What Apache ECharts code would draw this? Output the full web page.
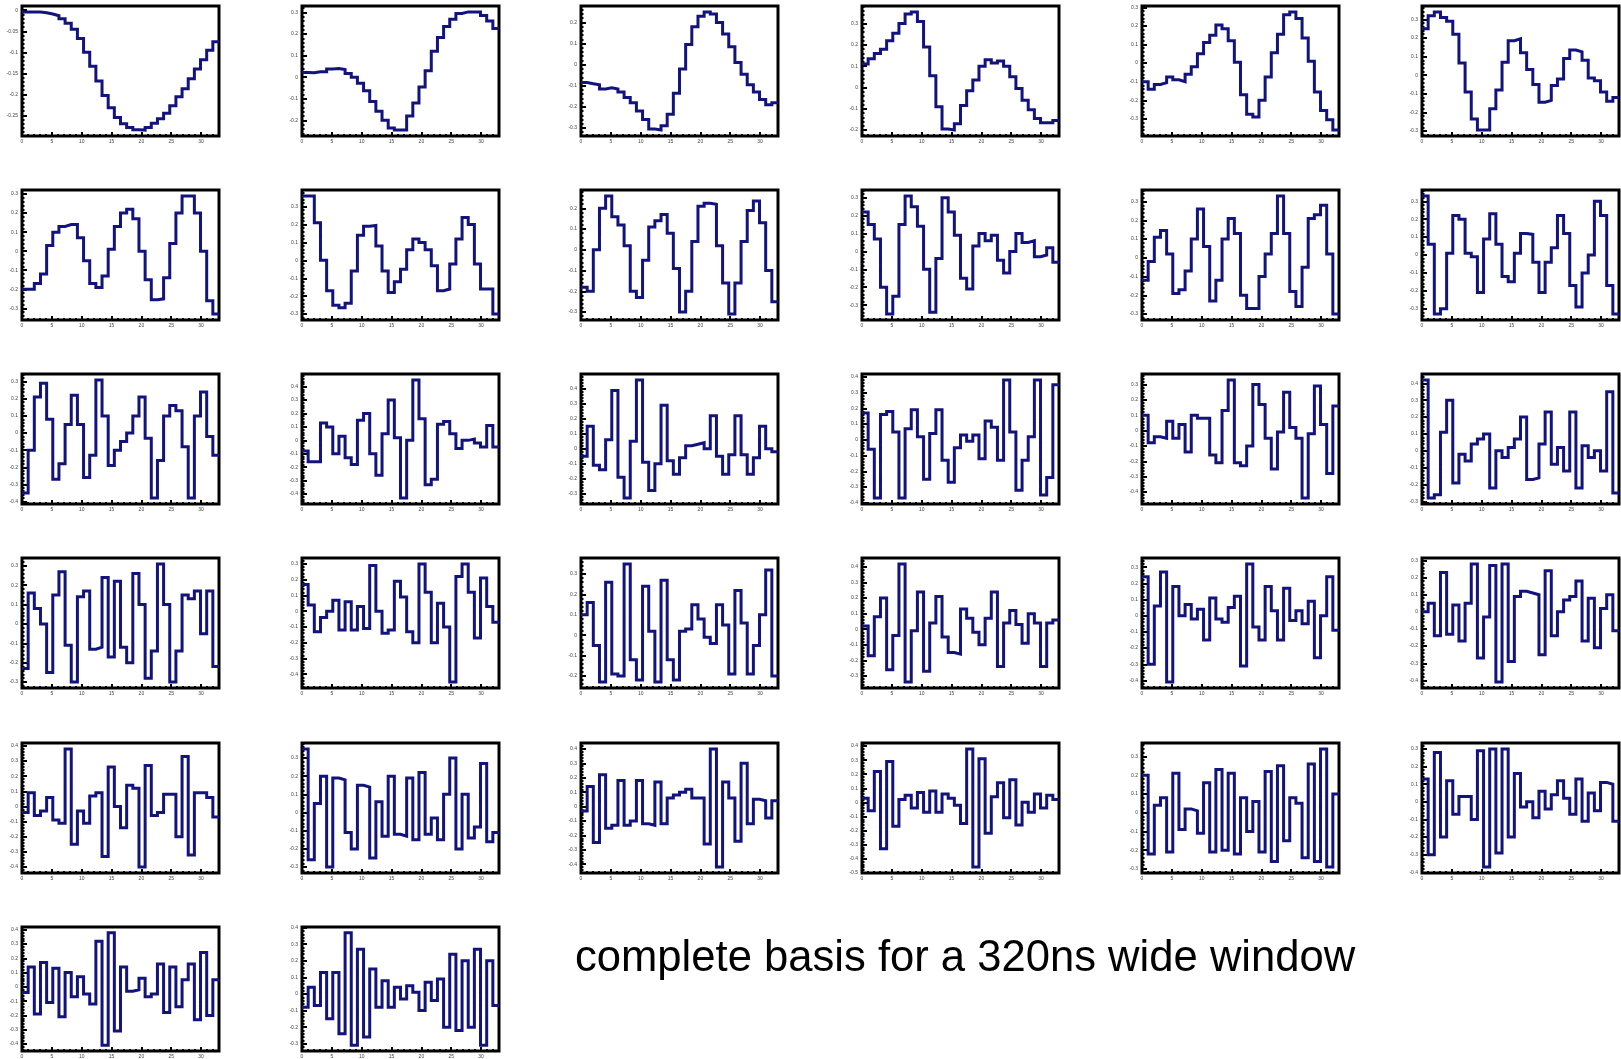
<!DOCTYPE html>
<html>
<head>
<meta charset="utf-8">
<script src="https://cdn.jsdelivr.net/npm/echarts@6/dist/echarts.min.js"></script>
<style>
  html, body { margin: 0; padding: 0; background: #fff; }
  #chart { width: 1621px; height: 1059px; }
</style>
</head>
<body>
<div id="chart"></div>
<script>
// 32 basis vectors, 32 bins each (10 ns per bin)
const basis01 = [-0.004,-0.004,-0.004,-0.006,-0.009,-0.013,-0.02,-0.031,-0.045,-0.067,-0.1,-0.133,-0.168,-0.203,-0.232,-0.255,-0.27,-0.279,-0.284,-0.285,-0.279,-0.269,-0.258,-0.245,-0.227,-0.206,-0.187,-0.163,-0.14,-0.118,-0.095,-0.075]
const basis02 = [0.022,0.02,0.025,0.025,0.038,0.04,0.035,0.017,0.0,-0.028,-0.063,-0.113,-0.158,-0.2,-0.235,-0.245,-0.245,-0.18,-0.12,-0.045,0.03,0.12,0.183,0.235,0.268,0.295,0.302,0.302,0.302,0.285,0.26,0.225]
const basis03 = [-0.085,-0.09,-0.095,-0.115,-0.11,-0.115,-0.13,-0.155,-0.18,-0.22,-0.26,-0.305,-0.31,-0.29,-0.235,-0.135,-0.02,0.095,0.18,0.23,0.25,0.24,0.2,0.145,0.085,0.01,-0.045,-0.095,-0.13,-0.165,-0.19,-0.18]
const basis04 = [0.11,0.135,0.16,0.18,0.22,0.255,0.3,0.345,0.355,0.31,0.19,0.055,-0.09,-0.195,-0.2,-0.17,-0.085,-0.015,0.035,0.1,0.13,0.115,0.125,0.1,0.05,-0.005,-0.06,-0.105,-0.145,-0.165,-0.165,-0.155]
const basis05 = [-0.1,-0.14,-0.115,-0.105,-0.075,-0.09,-0.1,-0.06,-0.02,0.05,0.11,0.15,0.205,0.185,0.12,0.005,-0.17,-0.275,-0.29,-0.2,-0.075,0.055,0.155,0.26,0.275,0.24,0.135,0.01,-0.155,-0.255,-0.305,-0.36]
const basis06 = [0.25,0.32,0.34,0.31,0.29,0.22,0.065,-0.09,-0.235,-0.295,-0.295,-0.18,-0.08,0.07,0.185,0.195,0.12,0.03,-0.05,-0.145,-0.135,-0.055,-0.02,0.09,0.135,0.125,0.08,-0.015,-0.03,-0.09,-0.14,-0.12]
const basis07 = [-0.2,-0.2,-0.17,-0.12,0.03,0.1,0.13,0.14,0.14,0.07,-0.05,-0.17,-0.19,-0.13,0.01,0.13,0.2,0.22,0.17,0.0,-0.15,-0.255,-0.25,-0.14,0.04,0.2,0.29,0.29,0.2,0.0,-0.26,-0.33]
const basis08 = [0.36,0.36,0.21,0.0,-0.17,-0.25,-0.265,-0.24,-0.06,0.14,0.19,0.195,0.08,-0.06,-0.18,-0.12,-0.05,0.06,0.12,0.1,0.06,-0.03,-0.17,-0.16,-0.02,0.12,0.24,0.2,-0.02,-0.16,-0.16,-0.3]
const basis09 = [-0.18,-0.2,0.0,0.2,0.26,0.16,0.12,0.02,-0.2,-0.23,-0.05,0.11,0.14,0.17,0.08,-0.09,-0.3,-0.2,0.04,0.21,0.225,0.22,0.02,-0.16,-0.31,-0.16,0.04,0.19,0.235,0.13,-0.1,-0.25]
const basis10 = [0.22,0.15,0.07,-0.2,-0.35,-0.25,0.15,0.31,0.25,0.14,-0.1,-0.34,-0.04,0.3,0.22,0.09,-0.15,-0.21,0.03,0.1,0.06,0.09,-0.05,-0.12,0.0,0.1,0.05,0.06,-0.03,-0.02,0.02,-0.06]
const basis11 = [-0.12,-0.02,0.11,0.145,0.02,-0.19,-0.17,-0.07,0.1,0.26,0.06,-0.23,-0.12,0.1,0.21,0.13,-0.2,-0.27,-0.27,-0.1,0.02,0.13,0.33,0.13,-0.18,-0.26,-0.05,0.21,0.23,0.28,0.02,-0.3]
const basis12 = [0.33,0.06,-0.33,-0.3,0.01,0.22,0.2,0.01,-0.01,-0.21,0.09,0.23,0.06,-0.12,-0.15,0.01,0.12,0.115,-0.04,-0.21,-0.04,0.04,0.22,0.12,-0.17,-0.29,-0.1,0.0,0.3,0.22,-0.17,-0.33]
const basis13 = [-0.35,-0.1,0.21,0.29,0.08,-0.27,-0.18,0.05,0.22,0.05,-0.26,-0.13,0.31,0.1,-0.19,-0.1,-0.05,0.0,0.1,0.21,-0.03,-0.38,-0.16,0.1,0.16,0.13,-0.08,-0.38,0.1,0.24,-0.02,-0.13]
const basis14 = [-0.08,-0.16,-0.16,0.13,0.1,-0.1,0.03,-0.13,-0.18,0.15,0.2,-0.1,-0.26,0.05,0.3,0.02,-0.43,0.0,0.45,0.16,-0.33,-0.29,0.12,0.14,0.05,-0.06,0.0,0.01,-0.02,-0.05,0.11,-0.05]
const basis15 = [-0.05,0.15,-0.11,-0.14,0.06,0.39,-0.19,-0.33,0.05,0.46,-0.09,-0.28,-0.1,0.29,-0.08,-0.17,-0.06,0.02,0.03,0.04,0.0,0.22,-0.05,-0.17,-0.04,0.22,-0.04,-0.17,-0.06,0.15,0.0,-0.02]
const basis16 = [0.17,-0.06,-0.37,0.16,0.18,0.05,-0.37,0.07,0.19,0.02,-0.25,0.04,0.19,-0.13,-0.27,-0.05,0.03,-0.01,0.03,-0.12,0.12,0.08,-0.13,0.38,0.05,-0.32,-0.13,0.02,0.38,-0.35,-0.24,0.35]
const basis17 = [0.1,-0.08,-0.04,-0.05,0.06,-0.05,0.04,-0.14,0.1,0.08,0.08,-0.16,-0.21,0.13,0.33,-0.21,-0.23,-0.1,0.3,0.17,-0.05,-0.25,-0.01,0.25,0.02,-0.05,-0.44,-0.02,0.29,0.04,-0.28,0.16]
const basis18 = [0.42,-0.28,-0.26,0.11,0.3,-0.19,-0.02,-0.06,0.04,0.07,0.1,-0.22,0.0,-0.04,0.02,0.07,0.2,-0.17,-0.16,0.04,0.23,-0.08,0.02,-0.12,0.23,-0.22,0.03,-0.04,0.0,-0.12,0.35,-0.25]
const basis19 = [-0.23,0.16,0.08,0.0,-0.25,0.15,0.27,-0.11,-0.3,0.14,0.17,-0.13,-0.12,0.24,-0.17,0.22,-0.12,-0.2,0.26,0.1,-0.28,-0.14,0.31,0.1,-0.3,-0.14,0.15,0.13,0.17,-0.05,0.17,-0.22]
const basis20 = [0.17,0.04,-0.13,-0.04,0.0,0.07,-0.12,0.06,-0.12,0.03,-0.11,0.29,0.0,-0.14,-0.12,0.19,0.09,-0.13,-0.2,0.3,0.12,-0.2,0.05,-0.1,-0.45,0.22,0.3,0.12,-0.17,0.21,0.03,-0.07]
const basis21 = [0.1,0.16,-0.05,-0.23,0.26,-0.19,-0.2,0.35,-0.12,-0.22,0.24,0.02,-0.23,0.27,-0.12,-0.22,0.02,0.03,0.15,0.08,-0.01,-0.04,0.15,0.05,-0.19,0.22,0.06,-0.19,-0.05,0.1,0.32,-0.2]
const basis22 = [0.02,-0.17,0.08,0.2,-0.26,-0.04,0.42,-0.34,-0.01,0.24,-0.27,0.04,0.21,-0.05,-0.15,-0.16,0.13,0.07,-0.02,-0.1,0.07,0.24,-0.24,0.04,0.12,0.03,-0.09,0.1,0.04,-0.24,0.04,0.06]
const basis23 = [0.24,-0.3,0.06,0.27,-0.41,0.18,0.0,0.07,-0.02,0.04,-0.15,0.11,-0.02,-0.04,0.05,0.12,-0.31,0.32,-0.07,-0.15,0.18,0.03,-0.15,0.17,-0.03,0.03,-0.05,0.09,-0.26,0.0,0.24,-0.09]
const basis24 = [0.0,0.05,-0.14,0.23,-0.13,0.04,-0.17,0.05,0.28,-0.27,-0.03,0.27,-0.41,0.28,-0.29,0.09,0.12,0.11,0.1,-0.25,0.24,-0.14,0.0,0.07,0.09,0.18,-0.17,0.08,-0.21,0.02,0.1,-0.11]
const basis25 = [-0.04,0.09,-0.06,-0.03,0.06,-0.09,-0.11,0.38,-0.25,-0.03,-0.11,0.07,0.09,-0.33,0.26,0.0,-0.14,0.14,0.12,-0.4,0.27,-0.06,-0.04,0.08,0.08,-0.2,0.33,-0.32,0.09,0.09,0.06,-0.07]
const basis26 = [0.35,-0.26,0.05,0.2,-0.3,0.19,0.18,-0.11,-0.2,0.15,0.14,-0.25,0.06,-0.13,0.2,-0.12,-0.13,0.19,-0.15,0.22,-0.12,-0.03,-0.15,0.1,0.3,-0.2,0.1,-0.14,-0.08,0.27,-0.16,-0.11]
const basis27 = [-0.03,0.14,-0.25,0.22,-0.15,-0.13,0.18,-0.13,-0.1,0.18,-0.12,-0.13,0.17,-0.12,0.06,0.08,0.1,0.12,0.06,0.06,-0.26,0.4,-0.42,0.17,0.06,-0.24,0.3,-0.12,0.05,0.04,-0.08,0.04]
const basis28 = [0.03,-0.06,0.22,-0.33,0.29,-0.17,0.02,0.05,-0.04,0.07,-0.07,0.08,-0.07,0.06,0.03,-0.02,-0.15,0.38,-0.46,0.31,-0.22,0.04,0.14,-0.11,0.16,-0.16,0.0,-0.07,0.06,-0.04,0.05,0.02]
const basis29 = [0.2,-0.22,0.04,0.08,-0.21,0.21,-0.09,0.02,0.01,-0.11,0.16,-0.21,0.23,-0.2,0.21,-0.22,0.08,-0.1,0.06,-0.21,0.22,-0.26,0.25,-0.15,0.08,0.05,-0.24,0.26,-0.26,0.34,-0.29,0.1]
const basis30 = [0.13,-0.3,0.28,-0.2,0.12,-0.07,0.03,0.03,-0.1,0.29,-0.37,0.3,-0.29,0.3,-0.2,0.16,-0.03,0.0,-0.09,0.06,-0.04,0.04,0.12,0.02,-0.07,0.13,-0.11,0.05,-0.05,0.11,0.1,-0.11]
const basis31 = [-0.04,0.14,-0.19,0.17,-0.11,0.13,-0.21,0.1,-0.07,0.07,-0.05,-0.12,0.32,-0.41,0.38,-0.31,0.14,-0.03,-0.02,0.06,-0.07,-0.05,0.16,-0.18,0.14,-0.14,0.05,0.16,-0.23,0.24,-0.2,0.05]
const basis32 = [-0.08,0.04,-0.07,0.13,-0.15,0.13,-0.24,0.37,-0.31,0.27,-0.26,0.15,-0.08,0.08,-0.08,0.04,-0.03,0.05,0.01,-0.1,0.07,-0.04,0.09,-0.2,0.24,-0.22,0.2,-0.2,0.27,-0.31,0.2,-0.07]

const basisVectors = [
  basis01, basis02, basis03, basis04, basis05, basis06,
  basis07, basis08, basis09, basis10, basis11, basis12,
  basis13, basis14, basis15, basis16, basis17, basis18,
  basis19, basis20, basis21, basis22, basis23, basis24,
  basis25, basis26, basis27, basis28, basis29, basis30,
  basis31, basis32
]

const caption = 'complete basis for a 320ns wide window'

// panel layout (pixels)
const colLeft = [22, 302, 581, 862, 1142, 1422]
const rowTop = [6, 190, 374, 558, 743, 927]
const panelW = 197
const panelH = 130
const xMax = 33
const lineColor = '#13137d'
const labelFont = '"Liberation Sans", Arial, sans-serif'

const grids = []
const xAxes = []
const yAxes = []
const series = []

basisVectors.forEach((vals, i) => {
  const col = i % 6
  const row = Math.floor(i / 6)
  const lo = Math.min(...vals)
  const hi = Math.max(...vals)
  const pad = 0.05 * (hi - lo)
  const step = (hi - lo) < 0.45 ? 0.05 : 0.1
  const binW = xMax / vals.length

  grids.push({
    left: colLeft[col],
    top: rowTop[row],
    width: panelW,
    height: panelH,
    show: true,
    borderColor: '#000',
    borderWidth: 3,
    backgroundColor: 'transparent'
  })

  xAxes.push({
    gridIndex: i,
    type: 'value',
    min: 0,
    max: xMax,
    minInterval: 5,
    maxInterval: 5,
    axisLine: { show: false, onZero: false },
    splitLine: { show: false },
    axisTick: { inside: true, length: 4, lineStyle: { color: '#000', width: 2 } },
    minorTick: { show: true, splitNumber: 5, length: 2, lineStyle: { color: '#000', width: 2 } },
    axisLabel: { fontSize: 5, color: '#444', margin: 3, showMaxLabel: false, fontFamily: labelFont }
  })

  yAxes.push({
    gridIndex: i,
    type: 'value',
    min: lo - pad,
    max: hi + pad,
    minInterval: step,
    maxInterval: step,
    axisLine: { show: false, onZero: false },
    splitLine: { show: false },
    axisTick: { inside: true, length: 5, lineStyle: { color: '#000', width: 2 } },
    minorTick: { show: true, splitNumber: 5, length: 2.5, lineStyle: { color: '#000', width: 2 } },
    axisLabel: { fontSize: 5, color: '#444', margin: 4, showMinLabel: false, showMaxLabel: false, fontFamily: labelFont }
  })

  // step outline: one point per bin low edge plus the closing edge
  const pts = vals.map((v, k) => [k * binW, v])
  pts.push([xMax, vals[vals.length - 1]])

  series.push({
    type: 'line',
    xAxisIndex: i,
    yAxisIndex: i,
    step: 'end',
    symbol: 'none',
    data: pts,
    lineStyle: { color: lineColor, width: 3, join: 'miter' },
    z: 3
  })
})

const chart = echarts.init(document.getElementById('chart'))
chart.setOption({
  animation: false,
  backgroundColor: '#fff',
  grid: grids,
  xAxis: xAxes,
  yAxis: yAxes,
  series: series,
  graphic: [{
    type: 'text',
    x: 575,
    y: 959,
    style: {
      text: caption,
      font: '43.6px "Liberation Sans", Arial, sans-serif',
      fill: '#000',
      textAlign: 'left',
      textVerticalAlign: 'middle',
      align: 'left',
      verticalAlign: 'middle'
    }
  }]
})
</script>
</body>
</html>
